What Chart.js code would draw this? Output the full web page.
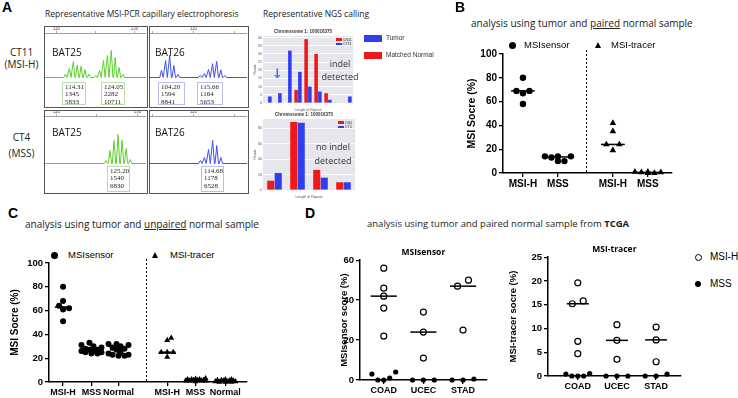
<!DOCTYPE html>
<html>
<head>
<meta charset="utf-8">
<script src="https://cdn.jsdelivr.net/npm/chart.js@4.4.1/dist/chart.umd.min.js"></script>
<style>
  html, body { margin: 0; padding: 0; background: #fff; }
  #fig { position: relative; width: 738px; height: 398px; overflow: hidden; font-family: "Open Sans", sans-serif; color: #000; }
  #fig canvas { position: absolute; }
  .t { position: absolute; white-space: nowrap; }
  .letter { font: bold 14px "Liberation Sans", Arial, sans-serif; line-height: 14px; }
  .head { font-size: 10px; line-height: 1.2; color: #222; }
  .small { font-size: 8.5px; line-height: 1.2; color: #222; }
  .rowlab { left: 0; width: 43px; text-align: center; font-size: 10px; line-height: 12px; color: #222; }
  .bat { font-size: 10px; line-height: 12px; color: #111; }
  .lg { font: 9.5px "Liberation Sans", Arial, sans-serif; line-height: 1.2; }
  .ce { position: absolute; box-sizing: border-box; border: 1.5px solid #555; background: #fff; }
  .peak { position: absolute; box-sizing: border-box; border: 1px solid #b9dca6; font: 7px "Liberation Serif", serif; line-height: 7.3px; padding: 1px 0 0 2px; color: #222; background: #fff; }
  .peak.blue { border-color: #b7bfea; }
  .dot { position: absolute; border-radius: 50%; background: #000; box-sizing: border-box; }
  .tri { position: absolute; width: 0; height: 0; border-left: 3.5px solid transparent; border-right: 3.5px solid transparent; border-bottom: 6px solid #000; }
  .over { font-size: 9px; line-height: 13px; color: #333; text-align: center; }
  .mini { font: 3.5px "Liberation Sans", Arial, sans-serif; line-height: 4px; color: #333; }
</style>
</head>
<body>
<div id="fig">
  <!-- panel A -->
  <div class="t letter" style="left:2px;top:0">A</div>
  <div class="t small" style="left:45px;top:9px">Representative MSI-PCR capillary electrophoresis</div>
  <div class="t small" style="left:263px;top:9px">Representative NGS calling</div>
  <div class="t rowlab" style="top:46px">CT11</div>
  <div class="t rowlab" style="top:58px">(MSI-H)</div>
  <div class="t rowlab" style="top:131px">CT4</div>
  <div class="t rowlab" style="top:147px">(MSS)</div>

  <div class="ce" id="ce1" style="left:44px;top:26px;width:104px;height:82px"></div>
  <div class="ce" id="ce2" style="left:149px;top:26px;width:100px;height:82px"></div>
  <div class="ce" id="ce3" style="left:44px;top:110px;width:104px;height:84px"></div>
  <div class="ce" id="ce4" style="left:149px;top:110px;width:100px;height:84px"></div>

  <div class="t bat" style="left:52px;top:46px">BAT25</div>
  <div class="t bat" style="left:155px;top:46px">BAT26</div>
  <div class="t bat" style="left:52px;top:126px">BAT25</div>
  <div class="t bat" style="left:155px;top:126px">BAT26</div>

  <div class="peak" style="left:62px;top:82px;width:24px;height:23px">114.31<br>1345<br>5833</div>
  <div class="peak" style="left:101px;top:82px;width:24px;height:23px">124.05<br>2282<br>10711</div>
  <div class="peak blue" style="left:158px;top:82px;width:27px;height:23px">104.20<br>1594<br>8841</div>
  <div class="peak blue" style="left:197px;top:82px;width:26px;height:23px">115.66<br>1164<br>5653</div>
  <div class="peak" style="left:107px;top:166px;width:23px;height:26px">125.20<br>1540<br>6830</div>
  <div class="peak blue" style="left:201px;top:166px;width:23px;height:26px">114.68<br>1178<br>6528</div>

  <div class="t" style="left:364px;top:35px;width:18px;height:7px;background:#2f3ff0"></div>
  <div class="t" style="left:386px;top:34px;font:6.5px 'Liberation Sans',Arial,sans-serif;line-height:8px;color:#333">Tumor</div>
  <div class="t" style="left:364px;top:52px;width:18px;height:7px;background:#f01818"></div>
  <div class="t" style="left:386px;top:51px;font:6.5px 'Liberation Sans',Arial,sans-serif;line-height:8px;color:#333">Matched Normal</div>

  <!-- panel B -->
  <div class="t letter" style="left:455px;top:0">B</div>
  <div class="t head" style="left:471px;top:17px">analysis using tumor and <u>paired</u> normal sample</div>
  <div class="dot" style="left:508.5px;top:41.5px;width:7px;height:7px"></div>
  <div class="t lg" style="left:524px;top:39px">MSIsensor</div>
  <div class="tri" style="left:594.5px;top:42px"></div>
  <div class="t lg" style="left:611px;top:39px">MSI-tracer</div>

  <!-- panel C -->
  <div class="t letter" style="left:8px;top:206px">C</div>
  <div class="t head" style="left:25px;top:218px">analysis using tumor and <u>unpaired</u> normal sample</div>
  <div class="dot" style="left:50.5px;top:251.5px;width:7px;height:7px"></div>
  <div class="t lg" style="left:68px;top:249px">MSIsensor</div>
  <div class="tri" style="left:151.5px;top:252px"></div>
  <div class="t lg" style="left:170px;top:249px">MSI-tracer</div>

  <!-- panel D -->
  <div class="t letter" style="left:305px;top:206px">D</div>
  <div class="t head" style="left:367px;top:218px;font-size:9.5px">analysis using tumor and paired normal sample from <b>TCGA</b></div>
  <div class="dot" style="left:694.5px;top:253.5px;width:7px;height:7px;background:#fff;border:1.3px solid #000"></div>
  <div class="t lg" style="left:710px;top:251px;font-size:10px">MSI-H</div>
  <div class="dot" style="left:695px;top:281px;width:6px;height:6px"></div>
  <div class="t lg" style="left:710px;top:278px;font-size:10px">MSS</div>
</div>

<script>
Chart.defaults.font.family = '"Liberation Sans", Arial, sans-serif';
Chart.defaults.color = '#000';
Chart.defaults.animation = false;

// ---- A: capillary electrophoresis peaks (size in bp, height in RFU)
const bat25MsiSize = [112.3, 113.3, 114.31, 115.3, 116.3, 117.3, 118.3, 120.05, 121.05, 122.05, 123.05, 124.05, 125.05, 126.05, 127.05];
const bat25MsiRfu  = [290, 770, 1345, 1060, 960, 670, 290, 170, 590, 1440, 1860, 2282, 1690, 850, 250];
const bat26MsiSize = [102.2, 103.2, 104.2, 105.2, 106.2, 111.66, 112.66, 113.66, 114.66, 115.66, 116.66, 117.66];
const bat26MsiRfu  = [510, 1230, 1594, 870, 220, 150, 290, 580, 1000, 1164, 560, 150];
const bat25MssSize = [122.2, 123.2, 124.2, 125.2, 126.2, 127.2, 128.2];
const bat25MssRfu  = [160, 690, 1220, 1540, 1220, 800, 210];
const bat26MssSize = [111.68, 112.68, 113.68, 114.68, 115.68, 116.68];
const bat26MssRfu  = [150, 310, 720, 1178, 920, 310];

// ---- A: NGS read counts per repeat length
const ngsMsiLen    = ['12', '13', '14', '15', '16', '17', '18', '19', '20'];
const ngsMsiNormal = [0, 0, 0, 8, 39, 30, 6, 0, 0];
const ngsMsiTumor  = [4, 6, 32, 19, 10, 7, 2, 0, 4];
const ngsMssLen    = ['15', '16', '17', '18'];
const ngsMssNormal = [12, 88, 26, 10];
const ngsMssTumor  = [22, 87, 16, 10];

// ---- B: paired normal, MSI score (%)
const bSensorMsih = [80, 69, 67, 69, 58];
const bSensorMss  = [14, 14, 14, 10, 10, 13];
const bTracerMsih = [42, 35, 24, 24, 19];
const bTracerMss  = [1, 0.5, 1, 0, 0.5, 0];

// ---- C: unpaired normal, MSI score (%)
const cSensorMsih   = [80, 68, 64, 62, 61, 51];
const cSensorMss    = [33, 31, 30, 29, 28, 27, 27, 26, 26, 25, 25, 24, 24];
const cSensorNormal = [32, 32, 31, 30, 29, 28, 27, 25, 24, 23, 23, 22, 22];
const cTracerMsih   = [37, 35, 25, 25, 25, 21];
const cTracerMss    = [3, 2.5, 2, 2, 2, 1.5, 1.5, 1.5, 1, 1, 1, 1, 0.5];
const cTracerNormal = [2, 2, 1.5, 1.5, 1, 1, 1, 0.5, 0.5, 0.5, 0, 0, 0];

// ---- D: TCGA (COAD, UCEC, STAD)
const tcgaTypes = ['COAD', 'UCEC', 'STAD'];
const dSensorMsih = [[56, 46, 42, 36, 22], [34, 24, 11], [50, 47, 25]];
const dSensorMss  = [[3, 1, 0, 0, 4], [0, 0, 0], [0, 0.5, 0]];
const dTracerMsih = [[19.6, 15.8, 15.2, 7.3, 4.7], [10.8, 7.5, 3.5], [10.3, 7.6, 3.0]];
const dTracerMss  = [[0, 0.5, 0, 0.4, 0], [0, 0, 0], [0, 0.4, 0]];

const fig = document.getElementById('fig');

function canvasAt(parent, x, y, w, h) {
  const c = document.createElement('canvas');
  c.width = w; c.height = h;
  c.style.left = x + 'px'; c.style.top = y + 'px';
  c.style.width = w + 'px'; c.style.height = h + 'px';
  parent.appendChild(c);
  return c;
}

function addText(x, y, cls, html, style) {
  const d = document.createElement('div');
  d.className = 't ' + cls;
  d.style.left = x + 'px'; d.style.top = y + 'px';
  if (style) d.style.cssText += style;
  d.innerHTML = html;
  fig.appendChild(d);
}

const median = a => {
  const s = [...a].sort((p, q) => p - q), m = s.length >> 1;
  return s.length % 2 ? s[m] : (s[m - 1] + s[m]) / 2;
};

// spread points that sit on the same row, like a scatter dot plot
function swarmRows(vals, pxY, tol, maxStep, maxWidth) {
  const order = vals.map((v, i) => i).sort((a, b) => vals[a] - vals[b]);
  const off = vals.map(() => 0);
  let row = [];
  const place = () => {
    const n = row.length;
    if (n > 1) {
      const step = Math.min(maxStep, maxWidth / (n - 1));
      const slots = row.map((_, j) => j - (n - 1) / 2)
        .sort((a, b) => Math.abs(a) - Math.abs(b) || a - b);
      row.forEach((id, j) => { off[id] = slots[j] * step; });
    }
    row = [];
  };
  order.forEach((id, k) => {
    if (k > 0 && (vals[id] - vals[order[k - 1]]) * pxY > tol) place();
    row.push(id);
  });
  place();
  return off;
}

// greedy bee swarm kept inside +/- half px
function swarmGreedy(vals, pxY, gap, step, half) {
  const order = vals.map((v, i) => i).sort((a, b) => vals[a] - vals[b]);
  const off = vals.map(() => 0), placed = [];
  const cands = [0];
  for (let k = 1; k * step <= half; k++) cands.push(k * step, -k * step);
  order.forEach(id => {
    const y = vals[id] * pxY;
    let best = 0, bestD = -1;
    for (const c of cands) {
      const d = placed.length ? Math.min(...placed.map(p => Math.hypot(p.x - c, p.y - y))) : Infinity;
      if (d >= gap) { best = c; bestD = d; break; }
      if (d > bestD) { best = c; bestD = d; }
    }
    off[id] = best;
    placed.push({x: best, y});
  });
  return off;
}

const plotBg = {
  id: 'plotBg',
  beforeDraw(chart, args, opts) {
    const {ctx, chartArea: a} = chart;
    ctx.save();
    ctx.fillStyle = opts.color || '#e8e8ee';
    ctx.fillRect(a.left, a.top, a.width, a.height);
    ctx.restore();
  }
};

const divider = {
  id: 'divider',
  afterDraw(chart, args, opts) {
    if (opts.at == null) return;
    const {ctx, chartArea: a, scales: {x}} = chart;
    const px = Math.round(x.getPixelForValue(opts.at)) + 0.5;
    ctx.save();
    ctx.strokeStyle = '#000';
    ctx.lineWidth = 1;
    ctx.setLineDash([2, 2]);
    ctx.beginPath();
    ctx.moveTo(px, a.top - 4);
    ctx.lineTo(px, a.bottom);
    ctx.stroke();
    ctx.restore();
  }
};

// ---------- electropherograms
function electro(boxId, w, h, o) {
  const el = canvasAt(document.getElementById(boxId), 0, 0, w, h);
  const pts = [{x: o.range[0], y: 0}];
  o.size.forEach((s, i) => pts.push({x: s - 0.42, y: 0}, {x: s, y: o.rfu[i]}, {x: s + 0.42, y: 0}));
  pts.push({x: o.range[1], y: 0});
  new Chart(el, {
    type: 'line',
    data: {datasets: [{data: pts, borderColor: o.color, borderWidth: 1, pointRadius: 0, tension: 0}]},
    options: {
      responsive: false, events: [],
      layout: {padding: 0},
      plugins: {legend: {display: false}, tooltip: {enabled: false}},
      scales: {
        x: {
          type: 'linear', position: 'top', min: o.range[0], max: o.range[1],
          afterBuildTicks: s => { s.ticks = o.ticks.map(v => ({value: v})); },
          afterFit: s => { s.height = o.axisH; },
          ticks: {autoSkip: false, maxRotation: 0, padding: 0, color: '#555', font: {size: 4.5},
                  callback: v => o.shown.includes(v) ? String(v) : ''},
          grid: {drawOnChartArea: false, color: '#888', lineWidth: 0.7, tickLength: 2},
          border: {color: '#888', width: 0.8}
        },
        y: {display: false, min: -o.ymax * o.below / o.above, max: o.ymax}
      }
    }
  });
}

const green = '#5ccf2e', blueTrace = '#3f51e6';
electro('ce1', 101, 79, {size: bat25MsiSize, rfu: bat25MsiRfu, color: green, range: [107.05, 132.95],
  ticks: [110, 120, 130], shown: [110, 130], axisH: 6, above: 44.5, below: 28.5, ymax: 3760});
electro('ce2', 97, 79, {size: bat26MsiSize, rfu: bat26MsiRfu, color: blueTrace, range: [99.4, 123.05],
  ticks: [100, 110, 120], shown: [110], axisH: 6, above: 44.5, below: 28.5, ymax: 3220});
electro('ce3', 101, 81, {size: bat25MssSize, rfu: bat25MssRfu, color: green, range: [107.16, 132.1],
  ticks: [110, 120, 130], shown: [110, 130], axisH: 5, above: 47.5, below: 28.5, ymax: 2520});
electro('ce4', 97, 81, {size: bat26MssSize, rfu: bat26MssRfu, color: blueTrace, range: [99.4, 123.05],
  ticks: [100, 110, 120], shown: [110], axisH: 5, above: 47.5, below: 28.5, ymax: 2430});

// ---------- NGS read-count bars
const ngsRed = '#f01818', ngsBlue = '#2f3ff0';
function ngs(x, y, w, h, o) {
  const el = canvasAt(fig, x, y, w, h);
  const tiny = {size: 3.5};
  const chart = new Chart(el, {
    type: 'bar',
    data: {labels: o.labels, datasets: [
      {label: o.names[0], data: o.normal, backgroundColor: ngsRed},
      {label: o.names[1], data: o.tumor, backgroundColor: ngsBlue}
    ]},
    options: {
      responsive: false, events: [],
      layout: {padding: {right: o.padRight}},
      datasets: {bar: {categoryPercentage: o.cat, barPercentage: 0.95}},
      plugins: {
        plotBg: {color: '#e6e6ec'},
        tooltip: {enabled: false},
        legend: {display: false},
        title: {display: true, text: o.title, color: '#333', font: {size: 4.5}, padding: {top: 1, bottom: 1.5}}
      },
      scales: {
        x: {
          afterFit: s => { s.height = 9; },
          grid: {display: false}, border: {display: false},
          ticks: {font: tiny, color: '#555', padding: 1, maxRotation: 0},
          title: {display: true, text: 'Length of Repeat', font: tiny, color: '#555', padding: 0}
        },
        y: {
          min: 0, max: o.max,
          afterFit: s => { s.width = 10; },
          grid: {color: '#fff', lineWidth: 0.8, drawTicks: false}, border: {display: false},
          ticks: {stepSize: o.step, includeBounds: false, font: tiny, color: '#555', padding: 1},
          title: {display: true, text: 'Reads', font: tiny, color: '#555', padding: 0}
        }
      }
    },
    plugins: [plotBg]
  });
  // small legend in the top right corner of the plot
  const a = chart.chartArea;
  o.names.forEach((n, i) => {
    const top = y + a.top + 2 + i * 4.5;
    addText(x + a.right - 17, top + 0.5, '', '', 'width:6px;height:2.5px;background:' + (i ? ngsBlue : ngsRed));
    addText(x + a.right - 10, top, 'mini', n);
  });
}

ngs(253, 28, 105, 84, {labels: ngsMsiLen, normal: ngsMsiNormal, tumor: ngsMsiTumor, names: ['CN11', 'CT11'],
  title: 'Chromosome 1: 100016375', max: 41, step: 5, cat: 0.75, padRight: 5});
ngs(253, 111, 107, 88, {labels: ngsMssLen, normal: ngsMssNormal, tumor: ngsMssTumor, names: ['CN4', 'CT4'],
  title: 'Chromosome 1: 100016375', max: 92, step: 20, cat: 0.65, padRight: 5});

addText(318, 57, 'over', 'indel<br>detected', 'width:44px');
addText(311, 140, 'over', 'no indel<br>detected', 'width:44px;line-height:14px');
addText(272, 66, '', '↓', "font:bold 13px 'DejaVu Sans',sans-serif;color:#4a6cf0");

// ---------- scatter dot plots
const solid = {pointStyle: 'circle', pointRadius: 3.2, backgroundColor: '#000', borderColor: '#000', borderWidth: 0};
const solidC = {pointStyle: 'circle', pointRadius: 3, backgroundColor: '#000', borderColor: '#000', borderWidth: 0};
const triB = {pointStyle: 'triangle', pointRadius: 3.8, backgroundColor: '#000', borderColor: '#000', borderWidth: 0};
const triC = {pointStyle: 'triangle', pointRadius: 3.5, backgroundColor: '#000', borderColor: '#000', borderWidth: 0};
const openD = {pointStyle: 'circle', pointRadius: 3, backgroundColor: '#fff', borderColor: '#000', borderWidth: 1.2};
const solidD = {pointStyle: 'circle', pointRadius: 2.6, backgroundColor: '#000', borderColor: '#000', borderWidth: 0};

function dotChart(o) {
  const titleH = o.title ? 16 : 0;
  const padTop = o.title ? 0 : 8;
  const left = o.areaL - o.yAxisW, top = o.areaT - titleH - padTop;
  const el = canvasAt(fig, left, top, o.areaR + 4 - left, o.areaB + o.xAxisH - top);
  const pxX = (o.areaR - o.areaL) / (o.xMax - o.xMin);
  const pxY = (o.areaB - o.areaT) / o.yMax;
  const marks = [], meds = [];
  o.groups.forEach(g => {
    const all = [].concat(...g.series.map(s => s[0]));
    const off = o.swarm ? swarmGreedy(all, pxY, ...o.swarm) : swarmRows(all, pxY, 6, o.maxStep, 24);
    let k = 0;
    g.series.forEach(([vals, style]) => {
      marks.push(Object.assign({clip: false, data: vals.map(v => ({x: g.pos + off[k++] / pxX, y: v}))}, style));
    });
    const m = median(g.med);
    meds.push({data: [{x: g.pos - o.medHalf, y: m}, {x: g.pos + o.medHalf, y: m}],
      showLine: true, pointRadius: 0, borderColor: '#000', borderWidth: 1.5, clip: false});
  });
  new Chart(el, {
    type: 'scatter',
    data: {datasets: meds.concat(marks)},
    options: {
      responsive: false, events: [],
      layout: {padding: {top: padTop, right: 4, left: 0, bottom: 0}},
      plugins: {
        legend: {display: false}, tooltip: {enabled: false},
        title: o.title ? {display: true, text: o.title, fullSize: false, color: '#000',
          font: {family: '"Open Sans", sans-serif', size: 8.5, weight: 'bold'}, padding: {top: 3, bottom: 3}} : {display: false},
        divider: {at: o.divider}
      },
      scales: {
        x: {
          type: 'linear', min: o.xMin, max: o.xMax,
          afterBuildTicks: s => { s.ticks = o.cats.map(v => ({value: v})); },
          afterFit: s => { s.height = o.xAxisH; },
          ticks: {autoSkip: false, maxRotation: 0, padding: 1, color: '#000',
                  font: {size: o.catSize, weight: 'bold'}, callback: (v, i) => o.labels[i]},
          grid: {drawOnChartArea: false, color: '#000', lineWidth: 1.3, tickLength: 4},
          border: {color: '#000', width: 1.5}
        },
        y: {
          min: 0, max: o.yMax,
          afterFit: s => { s.width = o.yAxisW; },
          ticks: {stepSize: o.yStep, padding: 2, color: '#000', font: {size: o.tickSize, weight: 'bold'}},
          grid: {drawOnChartArea: false, color: '#000', lineWidth: 1.3, tickLength: 4},
          border: {color: '#000', width: 1.5},
          title: {display: true, text: o.yTitle, color: '#000', font: {size: o.yTitleSize, weight: 'bold'},
                  padding: {top: o.yTitlePad, bottom: 0}}
        }
      }
    },
    plugins: [divider]
  });
}

// B
dotChart({
  areaL: 503, areaR: 672, areaT: 54, areaB: 173, yAxisW: 45, xAxisH: 20, swarm: [6.5, 6.5, 13],
  xMin: 0.43, xMax: 5.26, yMax: 100, yStep: 20, medHalf: 0.34,
  cats: [1, 2, 3.57, 4.57], labels: ['MSI-H', 'MSS', 'MSI-H', 'MSS'], divider: 2.8,
  tickSize: 10, catSize: 10, yTitle: 'MSI Socre (%)', yTitleSize: 10.5, yTitlePad: 7.7,
  groups: [
    {pos: 1, series: [[bSensorMsih, solid]], med: bSensorMsih},
    {pos: 2, series: [[bSensorMss, solid]], med: bSensorMss},
    {pos: 3.57, series: [[bTracerMsih, triB]], med: bTracerMsih},
    {pos: 4.57, series: [[bTracerMss, triB]], med: bTracerMss}
  ]
});

// C
dotChart({
  areaL: 49, areaR: 247, areaT: 263, areaB: 382, yAxisW: 49, xAxisH: 16, swarm: [4.2, 2, 11],
  xMin: 0.48, xMax: 7.8, yMax: 100, yStep: 20, medHalf: 0.31,
  cats: [1, 2.05, 3.05, 4.85, 5.9, 7], labels: ['MSI-H', 'MSS', 'Normal', 'MSI-H', 'MSS', 'Normal'], divider: 4.05,
  tickSize: 9.5, catSize: 9, yTitle: 'MSI Socre (%)', yTitleSize: 10, yTitlePad: 9,
  groups: [
    {pos: 1, series: [[cSensorMsih, solidC]], med: cSensorMsih},
    {pos: 2.05, series: [[cSensorMss, solidC]], med: cSensorMss},
    {pos: 3.05, series: [[cSensorNormal, solidC]], med: cSensorNormal},
    {pos: 4.85, series: [[cTracerMsih, triC]], med: cTracerMsih},
    {pos: 5.9, series: [[cTracerMss, triC]], med: cTracerMss},
    {pos: 7, series: [[cTracerNormal, triC]], med: cTracerNormal}
  ]
});

// D left: MSIsensor
dotChart({
  areaL: 360, areaR: 488, areaT: 260, areaB: 380, yAxisW: 25, xAxisH: 16,
  xMin: 0.4, xMax: 3.6, yMax: 60, yStep: 20, maxStep: 11, medHalf: 0.33,
  cats: [1, 2, 3], labels: tcgaTypes, title: 'MSIsensor',
  tickSize: 9.5, catSize: 9, yTitle: 'MSIsensor score (%)', yTitleSize: 9.5, yTitlePad: 4,
  groups: tcgaTypes.map((t, i) => ({pos: i + 1,
    series: [[dSensorMsih[i], openD], [dSensorMss[i], solidD]], med: dSensorMsih[i]}))
});

// D right: MSI-tracer
dotChart({
  areaL: 548, areaR: 682, areaT: 257, areaB: 376, yAxisW: 43, xAxisH: 16,
  xMin: 0.24, xMax: 3.63, yMax: 25, yStep: 5, maxStep: 11, medHalf: 0.28,
  cats: [1, 2, 3], labels: tcgaTypes, title: 'MSI-tracer',
  tickSize: 9.5, catSize: 9, yTitle: 'MSI-tracer socre (%)', yTitleSize: 9.5, yTitlePad: 3,
  groups: tcgaTypes.map((t, i) => ({pos: i + 1,
    series: [[dTracerMsih[i], openD], [dTracerMss[i], solidD]], med: dTracerMsih[i]}))
});
</script>
</body>
</html>
